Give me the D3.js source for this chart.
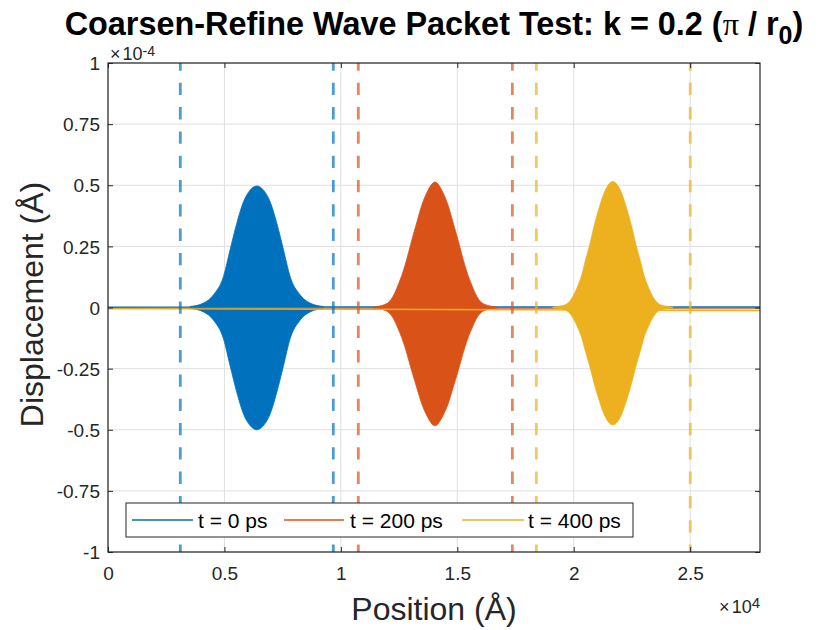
<!DOCTYPE html>
<html>
<head>
<meta charset="utf-8">
<script src="https://cdn.jsdelivr.net/npm/d3@7"></script>
<style>
  html, body { margin: 0; padding: 0; background: #fff; }
  svg { display: block; font-family: "Liberation Sans", Arial, Helvetica, sans-serif; }
</style>
</head>
<body>
<svg id="chart" width="840" height="630"></svg>
<script>
// ---------- data (x in Å, y in units of 1e-4 Å) ----------
const xTicks = [0, 5000, 10000, 15000, 20000, 25000];
const yTicks = [-1, -0.75, -0.5, -0.25, 0, 0.25, 0.5, 0.75, 1];
const seriesNames = ["t = 0 ps", "t = 200 ps", "t = 400 ps"];
const seriesColors = ["#0072BD", "#D95319", "#EDB120"];

// envelope of the dense wave packets (upper / lower)
const blueX  = [3526, 4101, 4531, 4960, 5243, 5531, 5819, 6102, 6390, 6678, 6961, 7249, 7537, 7820, 8249, 8679, 9254];
const blueUp = [0.004, 0.018, 0.052, 0.127, 0.236, 0.345, 0.433, 0.48, 0.497, 0.48, 0.433, 0.345, 0.236, 0.127, 0.052, 0.018, 0.004];
const blueLo = [-0.004, -0.018, -0.052, -0.128, -0.238, -0.347, -0.436, -0.483, -0.500, -0.483, -0.436, -0.347, -0.238, -0.128, -0.052, -0.018, -0.004];

const orangeX  = [11378, 11936, 12237, 12451, 12666, 12838, 13031, 13267, 13482, 13696, 14040, 14384, 14598, 14813, 15049, 15242, 15414, 15629, 15843, 16144, 16702];
const orangeUp = [0.002, 0.014, 0.045, 0.09, 0.145, 0.2, 0.27, 0.35, 0.42, 0.47, 0.513, 0.47, 0.42, 0.35, 0.27, 0.2, 0.145, 0.09, 0.045, 0.014, 0.002];
const orangeLo = [-0.002, -0.013, -0.042, -0.085, -0.137, -0.189, -0.255, -0.33, -0.396, -0.443, -0.484, -0.443, -0.396, -0.33, -0.255, -0.189, -0.137, -0.085, -0.042, -0.013, -0.002];

const yellowX  = [19104, 19632, 19919, 20134, 20349, 20491, 20675, 20890, 21092, 21276, 21680, 22084, 22268, 22470, 22685, 22869, 23011, 23226, 23441, 23728, 24256];
const yellowUp = [0.002, 0.011, 0.038, 0.079, 0.134, 0.188, 0.252, 0.338, 0.407, 0.461, 0.515, 0.461, 0.407, 0.338, 0.252, 0.188, 0.134, 0.079, 0.038, 0.011, 0.002];
const yellowLo = [-0.002, -0.010, -0.035, -0.074, -0.125, -0.175, -0.235, -0.315, -0.379, -0.430, -0.480, -0.430, -0.379, -0.315, -0.235, -0.175, -0.125, -0.074, -0.035, -0.010, -0.002];

// near-zero background signal of each series
const baseX      = [0, 7000, 14000, 21000, 28000];
const blueBase   = [0.001, 0.002, 0.002, 0.002, 0.002];
const orangeBase = [-0.003, -0.002, -0.002, -0.002, -0.002];
const yellowBase = [-0.005, -0.006, -0.008, -0.01, -0.012];

// window boundaries (dashed lines)
const blueEdges   = [3105, 9675];
const orangeEdges = [10750, 17365];
const yellowEdges = [18395, 25005];

// ---------- layout ----------
const L = 108, R = 760, T = 63, B = 552;
const svg = d3.select("#chart");
const x = d3.scaleLinear().domain([0, 28000]).range([L, R]);
const y = d3.scaleLinear().domain([-1, 1]).range([B, T]);
const axisColor = "#262626";

svg.append("defs").append("clipPath").attr("id", "clip")
  .append("rect").attr("x", L).attr("y", T).attr("width", R - L).attr("height", B - T);

// grid
const grid = svg.append("g").attr("stroke", "#dfdfdf").attr("stroke-width", 1);
grid.selectAll("line.gx").data(xTicks).join("line")
  .attr("x1", d => x(d)).attr("x2", d => x(d)).attr("y1", T).attr("y2", B);
grid.selectAll("line.gy").data(yTicks).join("line")
  .attr("y1", d => y(d)).attr("y2", d => y(d)).attr("x1", L).attr("x2", R);

// series
const plot = svg.append("g").attr("clip-path", "url(#clip)");
const packets = [
  {xs: blueX, up: blueUp, lo: blueLo, base: blueBase, color: seriesColors[0]},
  {xs: orangeX, up: orangeUp, lo: orangeLo, base: orangeBase, color: seriesColors[1]},
  {xs: yellowX, up: yellowUp, lo: yellowLo, base: yellowBase, color: seriesColors[2]}
];
const area = d3.area().curve(d3.curveMonotoneX)
  .x(d => x(d.x)).y0(d => y(d.lo)).y1(d => y(d.up));
const line = d3.line().curve(d3.curveMonotoneX).x(d => x(d.x)).y(d => y(d.v));
packets.forEach(p => {
  const pts = p.xs.map((xv, i) => ({x: xv, up: p.up[i], lo: p.lo[i]}));
  plot.append("path").datum(pts).attr("d", area).attr("fill", p.color)
    .attr("stroke", p.color).attr("stroke-width", 0.8);
  const bpts = baseX.map((xv, i) => ({x: xv, v: p.base[i]}));
  plot.append("path").datum(bpts).attr("d", line).attr("fill", "none")
    .attr("stroke", p.color).attr("stroke-width", 1.4);
});

// dashed window lines
const edges = [
  {vals: blueEdges, color: seriesColors[0]},
  {vals: orangeEdges, color: seriesColors[1]},
  {vals: yellowEdges, color: seriesColors[2]}
];
edges.forEach(e => {
  plot.selectAll(null).data(e.vals).join("line")
    .attr("x1", d => x(d)).attr("x2", d => x(d)).attr("y1", T).attr("y2", B)
    .attr("stroke", e.color).attr("stroke-opacity", 0.7).attr("stroke-width", 2.8)
    .attr("stroke-dasharray", "12.3,12").attr("stroke-dashoffset", 4.5);
});

// axes (ticks inward, mirrored)
const fmtY = d => String(d);
const fmtX = d => String(d / 1e4);
const axL = svg.append("g").attr("transform", `translate(${L},0)`)
  .call(d3.axisLeft(y).tickValues(yTicks).tickFormat(fmtY).tickSizeInner(-5).tickSizeOuter(0).tickPadding(8));
const axB = svg.append("g").attr("transform", `translate(0,${B})`)
  .call(d3.axisBottom(x).tickValues(xTicks).tickFormat(fmtX).tickSizeInner(-5).tickSizeOuter(0).tickPadding(15));
const axR = svg.append("g").attr("transform", `translate(${R},0)`)
  .call(d3.axisRight(y).tickValues(yTicks).tickFormat("").tickSizeInner(-5).tickSizeOuter(0));
const axT = svg.append("g").attr("transform", `translate(0,${T})`)
  .call(d3.axisTop(x).tickValues(xTicks).tickFormat("").tickSizeInner(-5).tickSizeOuter(0));
[axL, axB, axR, axT].forEach(a => {
  a.select(".domain").remove();
  a.selectAll("line").attr("stroke", axisColor);
  a.selectAll("text").attr("fill", axisColor).style("font-size", "19px")
    .style("font-family", '"Liberation Sans", Arial, sans-serif');
});
axL.selectAll("text").attr("dy", "0.35em");

// box
svg.append("rect").attr("x", L).attr("y", T).attr("width", R - L).attr("height", B - T)
  .attr("fill", "none").attr("stroke", axisColor).attr("stroke-width", 1.2);

// exponent labels
const e1 = svg.append("text").attr("x", L + 2).attr("y", 59.5).attr("fill", axisColor)
  .style("font-size", "18px");
e1.append("tspan").text("×");
e1.append("tspan").attr("dx", 2).text("10");
e1.append("tspan").attr("dy", -4).style("font-size", "14px").text("-4");

const e2 = svg.append("text").attr("x", R).attr("y", 613).attr("fill", axisColor)
  .attr("text-anchor", "end").style("font-size", "18px");
e2.append("tspan").text("×");
e2.append("tspan").attr("dx", 2).text("10");
e2.append("tspan").attr("dy", -5).style("font-size", "15px").text("4");

// axis labels
svg.append("text").attr("x", (L + R) / 2).attr("y", 620).attr("text-anchor", "middle")
  .attr("fill", axisColor).style("font-size", "32px").text("Position (Å)");
svg.append("text").attr("transform", `translate(43,${(T + B) / 2 - 3}) rotate(-90)`)
  .attr("text-anchor", "middle").attr("fill", axisColor).style("font-size", "32px")
  .text("Displacement (Å)");

// title
const title = svg.append("text").attr("x", (L + R) / 2).attr("y", 35).attr("text-anchor", "middle")
  .attr("fill", "#000").style("font-size", "32.4px").style("font-weight", "bold");
title.append("tspan").text("Coarsen-Refine Wave Packet Test: k = 0.2 (");
title.append("tspan").style("font-family", '"Liberation Serif", "DejaVu Serif", serif')
  .style("font-weight", "normal").text("π");
title.append("tspan").text(" / r");
title.append("tspan").attr("dy", 9).style("font-size", "25px").text("0");
title.append("tspan").attr("dy", -9).text(")");

// legend
const lg = svg.append("g");
lg.append("rect").attr("x", 126).attr("y", 503).attr("width", 507).attr("height", 34)
  .attr("fill", "#fff").attr("stroke", axisColor).attr("stroke-width", 1);
const legendItems = [
  {lx1: 132, lx2: 193, tx: 198},
  {lx1: 284, lx2: 344, tx: 350},
  {lx1: 462, lx2: 524, tx: 528}
];
legendItems.forEach((it, i) => {
  lg.append("line").attr("x1", it.lx1).attr("x2", it.lx2).attr("y1", 520).attr("y2", 520)
    .attr("stroke", seriesColors[i]).attr("stroke-width", 1.3);
  lg.append("text").attr("x", it.tx).attr("y", 528).attr("fill", "#000")
    .style("font-size", "21px").text(seriesNames[i]);
});
</script>
</body>
</html>
